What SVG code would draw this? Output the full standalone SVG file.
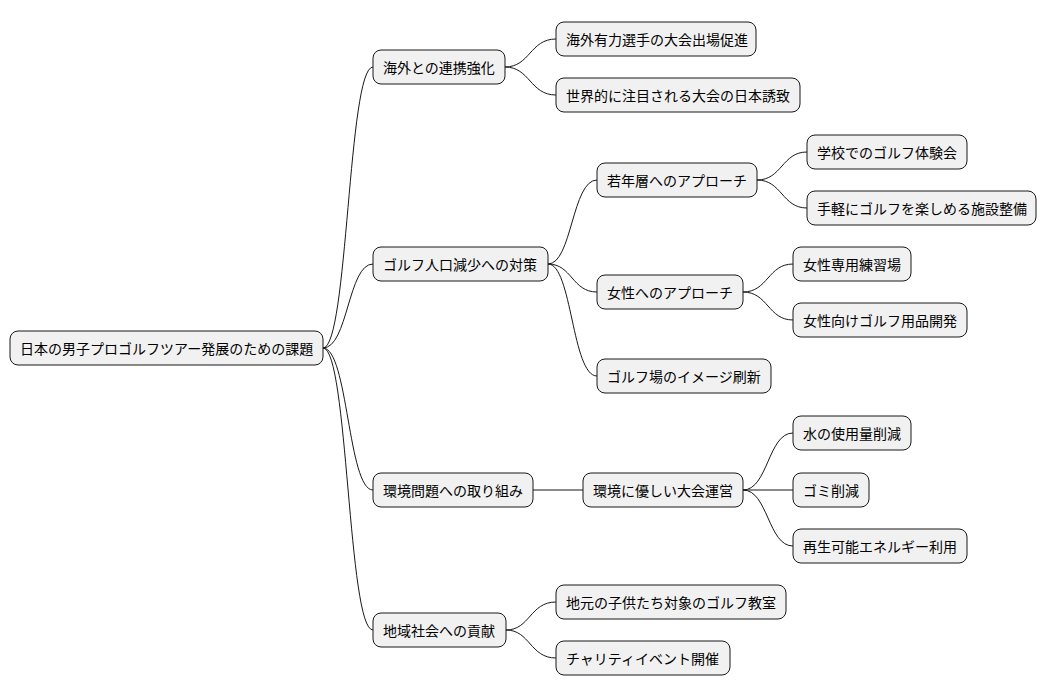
<svg xmlns="http://www.w3.org/2000/svg" width="1048" height="696" viewBox="0 0 1048 696">
<style>
rect{fill:#f1f1f1;stroke:#181818;stroke-width:1}
text{font-family:"Noto Sans CJK JP","Noto Sans",sans-serif;font-size:14px;fill:#000;dominant-baseline:central}
#c path{fill:none;stroke:#181818;stroke-width:1}
</style>
<rect x="0" y="0" width="1048" height="696" style="fill:#fff;stroke:none"/>
<g id="c">
<path d="M323 348 C348 348 348 67 373 67"/>
<path d="M323 348 C348 348 348 264 373 264"/>
<path d="M323 348 C348 348 348 490 373 490"/>
<path d="M323 348 C348 348 348 630 373 630"/>
<path d="M505 67 C530 67 530 39 556 39"/>
<path d="M505 67 C530 67 530 95 556 95"/>
<path d="M548 264 C572 264 572 180 597 180"/>
<path d="M548 264 C572 264 572 292 597 292"/>
<path d="M548 264 C572 264 572 376 597 376"/>
<path d="M533 490 L583 490"/>
<path d="M506 630 C530 630 530 602 556 602"/>
<path d="M506 630 C530 630 530 658 556 658"/>
<path d="M757 180 C782 180 782 152 807 152"/>
<path d="M757 180 C782 180 782 208 807 208"/>
<path d="M743 292 C768 292 768 264 793 264"/>
<path d="M743 292 C768 292 768 320 793 320"/>
<path d="M743 490 C768 490 768 433 793 433"/>
<path d="M743 490 L793 490"/>
<path d="M743 490 C768 490 768 546 793 546"/>
</g>
<g id="root"><rect x="10" y="331" width="313" height="34" rx="8"/><text x="20" y="348">日本の男子プロゴルフツアー発展のための課題</text></g>
<g id="n1"><rect x="373" y="50" width="132" height="34" rx="8"/><text x="383" y="67">海外との連携強化</text></g>
<g id="n2"><rect x="373" y="247" width="175" height="34" rx="8"/><text x="383" y="264">ゴルフ人口減少への対策</text></g>
<g id="n3"><rect x="373" y="473" width="160" height="34" rx="8"/><text x="383" y="490">環境問題への取り組み</text></g>
<g id="n4"><rect x="373" y="613" width="133" height="34" rx="8"/><text x="383" y="630">地域社会への貢献</text></g>
<g id="n11"><rect x="556" y="22" width="200" height="34" rx="8"/><text x="566" y="39">海外有力選手の大会出場促進</text></g>
<g id="n12"><rect x="556" y="78" width="244" height="34" rx="8"/><text x="566" y="95">世界的に注目される大会の日本誘致</text></g>
<g id="n21"><rect x="597" y="163" width="160" height="34" rx="8"/><text x="607" y="180">若年層へのアプローチ</text></g>
<g id="n22"><rect x="597" y="275" width="146" height="34" rx="8"/><text x="607" y="292">女性へのアプローチ</text></g>
<g id="n23"><rect x="597" y="359" width="174" height="34" rx="8"/><text x="607" y="376">ゴルフ場のイメージ刷新</text></g>
<g id="n31"><rect x="583" y="473" width="160" height="34" rx="8"/><text x="593" y="490">環境に優しい大会運営</text></g>
<g id="n41"><rect x="556" y="585" width="230" height="34" rx="8"/><text x="566" y="602">地元の子供たち対象のゴルフ教室</text></g>
<g id="n42"><rect x="556" y="641" width="174" height="34" rx="8"/><text x="566" y="658">チャリティイベント開催</text></g>
<g id="n211"><rect x="807" y="135" width="160" height="34" rx="8"/><text x="817" y="152">学校でのゴルフ体験会</text></g>
<g id="n212"><rect x="807" y="191" width="229" height="34" rx="8"/><text x="817" y="208">手軽にゴルフを楽しめる施設整備</text></g>
<g id="n221"><rect x="793" y="247" width="118" height="34" rx="8"/><text x="803" y="264">女性専用練習場</text></g>
<g id="n222"><rect x="793" y="303" width="174" height="34" rx="8"/><text x="803" y="320">女性向けゴルフ用品開発</text></g>
<g id="n311"><rect x="793" y="416" width="118" height="34" rx="8"/><text x="803" y="433">水の使用量削減</text></g>
<g id="n312"><rect x="793" y="473" width="76" height="34" rx="8"/><text x="803" y="490">ゴミ削減</text></g>
<g id="n313"><rect x="793" y="529" width="174" height="34" rx="8"/><text x="803" y="546">再生可能エネルギー利用</text></g>
</svg>
